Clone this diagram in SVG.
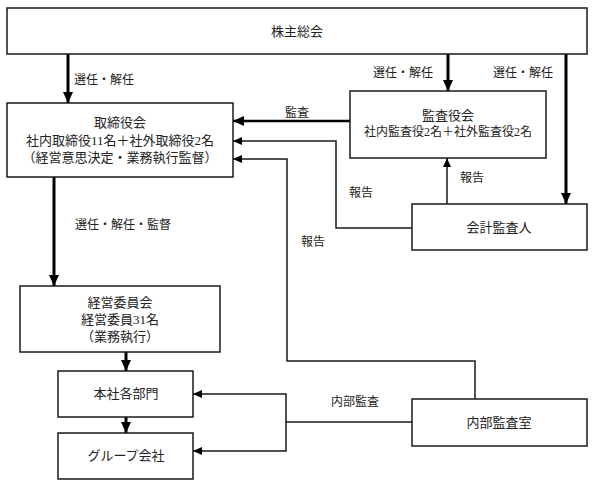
<svg xmlns="http://www.w3.org/2000/svg" width="593" height="486" viewBox="0 0 593 486">
<style>
.box{fill:#fff;stroke:#1a1a1a;stroke-width:1.5}
.t{font-family:"Liberation Serif","Noto Sans CJK JP",serif;fill:#222;text-anchor:middle;font-size:13px}
.s{font-size:12px}
.l{font-family:"Liberation Serif","Noto Sans CJK JP",serif;fill:#222;font-size:12px}
.thick{fill:none;stroke:#000;stroke-width:3}
.mid{fill:none;stroke:#000;stroke-width:2.5}
.thin{fill:none;stroke:#1a1a1a;stroke-width:1.5}
</style>
<defs>
<marker id="ah" markerUnits="userSpaceOnUse" markerWidth="12" markerHeight="12" viewBox="0 0 12 12" refX="11" refY="6" orient="auto">
<path d="M0,1 L11,6 L0,11 Z" fill="#000"/>
</marker>
<marker id="as" markerUnits="userSpaceOnUse" markerWidth="10" markerHeight="10" viewBox="0 0 10 10" refX="9" refY="5" orient="auto">
<path d="M0,1 L9,5 L0,9 Z" fill="#000"/>
</marker>
</defs>
<g id="connectors">
<path class="thick" d="M68,54 V103" marker-end="url(#ah)"/>
<path class="thick" d="M448,54 V91" marker-end="url(#ah)"/>
<path class="thick" d="M566,54 V204" marker-end="url(#ah)"/>
<path class="mid" d="M350,121 H233" marker-end="url(#ah)"/>
<path class="thin" d="M447,204 V158" marker-end="url(#as)"/>
<path class="thin" d="M412,228 H336 V141 H233" marker-end="url(#as)"/>
<path class="thin" d="M475,399 V361 H287 V159 H233" marker-end="url(#as)"/>
<path class="thick" d="M54,177 V286" marker-end="url(#ah)"/>
<path class="thick" d="M126,352 V371" marker-end="url(#ah)"/>
<path class="thick" d="M126,417 V433" marker-end="url(#ah)"/>
<path class="thin" d="M412,422 H286 V394 H193" marker-end="url(#as)"/>
<path class="thin" d="M286,422 V451 H193" marker-end="url(#as)"/>
<text class="l" x="74" y="84">選任・解任</text>
<text class="l" x="373" y="77">選任・解任</text>
<text class="l" x="493" y="77">選任・解任</text>
<text class="l" x="285" y="117">監査</text>
<text class="l" x="460" y="182">報告</text>
<text class="l" x="349" y="197">報告</text>
<text class="l" x="301" y="246">報告</text>
<text class="l" x="75" y="229">選任・解任・監督</text>
<text class="l" x="331" y="406">内部監査</text>
</g>
<g id="shareholders">
<rect class="box" x="7" y="8" width="580" height="46"/>
<text class="t" x="297" y="36">株主総会</text>
</g>
<g id="board">
<rect class="box" x="7" y="103" width="226" height="74"/>
<text class="t" x="120" y="127">取締役会</text>
<text class="t" x="120" y="145">社内取締役11名＋社外取締役2名</text>
<text class="t" x="120" y="162">（経営意思決定・業務執行監督）</text>
</g>
<g id="auditboard">
<rect class="box" x="350" y="91" width="196" height="67"/>
<text class="t" x="448" y="120">監査役会</text>
<text class="t s" x="448" y="136">社内監査役2名＋社外監査役2名</text>
</g>
<g id="accountant">
<rect class="box" x="412" y="204" width="175" height="46"/>
<text class="t" x="499" y="232">会計監査人</text>
</g>
<g id="executive">
<rect class="box" x="20" y="286" width="200" height="66"/>
<text class="t" x="120" y="307">経営委員会</text>
<text class="t" x="120" y="324">経営委員31名</text>
<text class="t" x="120" y="341">（業務執行）</text>
</g>
<g id="hq">
<rect class="box" x="58" y="371" width="135" height="46"/>
<text class="t" x="126" y="398">本社各部門</text>
</g>
<g id="group">
<rect class="box" x="58" y="433" width="135" height="46"/>
<text class="t" x="126" y="460">グループ会社</text>
</g>
<g id="internalaudit">
<rect class="box" x="412" y="399" width="175" height="47"/>
<text class="t" x="499" y="427">内部監査室</text>
</g>
</svg>
